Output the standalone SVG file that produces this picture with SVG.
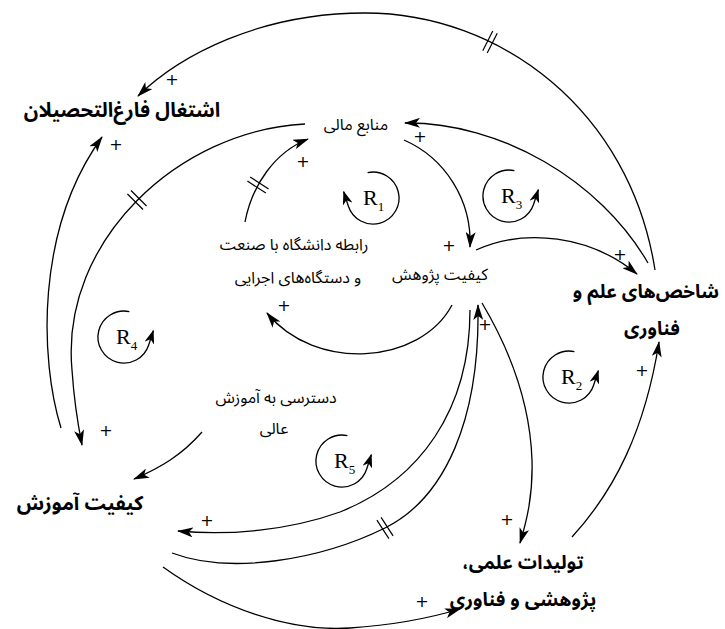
<svg xmlns="http://www.w3.org/2000/svg" width="725" height="629" viewBox="0 0 725 629">
<style>
.c{fill:none;stroke:#000;stroke-width:1.3}
.a{marker-end:url(#ah)}
.fa{font-family:'Noto Sans Arabic','DejaVu Sans',sans-serif;direction:rtl;text-anchor:middle;font-size:16px;fill:#000}
.b{font-weight:bold;font-size:20px}
.b2{font-weight:bold;font-size:19px}
.p{font-family:'DejaVu Sans',sans-serif;font-size:16px;text-anchor:middle;fill:#000}
.r{font-family:'Liberation Serif',serif;font-size:22px;fill:#000}
.lp{fill:none;stroke:#000;stroke-width:1.3;marker-end:url(#ah2)}
</style>
<defs>
<marker id="ah" viewBox="0 0 16 10" refX="15" refY="5" markerWidth="16" markerHeight="10" markerUnits="userSpaceOnUse" orient="auto"><path d="M0,0 L16,5 L0,10 L4,5 z" fill="#000"/></marker>
<marker id="ah2" viewBox="0 0 14 10" refX="13" refY="5" markerWidth="14" markerHeight="10" markerUnits="userSpaceOnUse" orient="auto"><path d="M0,0 L14,5 L0,10 L4,5 z" fill="#000"/></marker>
<path id="ccw" d="M5.4,-25.4 A26,26 0 1 0 24.7,8 L29.3,-6.3"/>
<path id="cw" d="M-5.4,-25.4 A26,26 0 1 1 -24.7,8 L-29.3,-6.3"/>
<g id="hash" stroke="#000" stroke-width="1.2"><line x1="-2.5" y1="-11" x2="-2.5" y2="11"/><line x1="2.5" y1="-11" x2="2.5" y2="11"/></g>
</defs>
<rect width="725" height="629" fill="#fff"/>

<g id="connectors">
<path class="c a" d="M655,270 C630,110 500,13 365,13 C260,13 180,55 138,96"/>
<path class="c a" d="M648,263 C600,180 500,122 405,123"/>
<path class="c a" d="M404,140 C445,158 472,200 470,247"/>
<path class="c a" d="M476,250 C525,228 590,235 637,274"/>
<path class="c a" d="M452,305 C420,365 315,372 267,313"/>
<path class="c a" d="M245,222 C252,185 275,152 308,139"/>
<path class="c a" d="M305,124 C180,130 60,240 72,370 C74,400 78,425 82,445"/>
<path class="c a" d="M61,428 C40,360 35,230 102,137"/>
<path class="c a" d="M202,432 C182,455 160,468 134,479"/>
<path class="c a" d="M470,310 C470,410 420,480 340,512 C290,530 230,536 178,531"/>
<path class="c a" d="M172,553 C230,575 320,560 385,528 C445,498 480,420 478,305"/>
<path class="c a" d="M482,303 C507,345 530,400 532,460 C533,495 527,520 520,543"/>
<path class="c a" d="M572,537 C615,490 645,430 659,342"/>
<path class="c a" d="M163,567 C220,608 290,632 350,628 C395,625 430,618 460,609"/>
<g id="delays">
<use href="#hash" transform="translate(490,42) rotate(27)"/>
<use href="#hash" transform="translate(137,200) rotate(-45)"/>
<use href="#hash" transform="translate(258,185) rotate(-57)"/>
<use href="#hash" transform="translate(385,528) rotate(-33)"/>
</g>
<g id="polarities">
<text class="p" x="172" y="85">+</text>
<text class="p" x="116" y="150">+</text>
<text class="p" x="420" y="142">+</text>
<text class="p" x="303" y="167">+</text>
<text class="p" x="449" y="251">+</text>
<text class="p" x="620" y="260">+</text>
<text class="p" x="284" y="311">+</text>
<text class="p" x="485" y="330">+</text>
<text class="p" x="106" y="436">+</text>
<text class="p" x="207" y="526">+</text>
<text class="p" x="507" y="525">+</text>
<text class="p" x="642" y="376">+</text>
<text class="p" x="422" y="607">+</text>
</g>
</g>

<g id="loops">
<g id="R1" transform="translate(373,198)"><use href="#cw" class="lp"/><text class="r" x="-10" y="7">R<tspan font-size="13" dy="6">1</tspan></text></g>
<g id="R2" transform="translate(569,377)"><use href="#ccw" class="lp"/><text class="r" x="-8" y="7">R<tspan font-size="13" dy="6">2</tspan></text></g>
<g id="R3" transform="translate(509,196)"><use href="#ccw" class="lp"/><text class="r" x="-8" y="7">R<tspan font-size="13" dy="6">3</tspan></text></g>
<g id="R4" transform="translate(124,337)"><use href="#ccw" class="lp"/><text class="r" x="-8" y="7">R<tspan font-size="13" dy="6">4</tspan></text></g>
<g id="R5" transform="translate(342,461)"><use href="#ccw" class="lp"/><text class="r" x="-8" y="7">R<tspan font-size="13" dy="6">5</tspan></text></g>
</g>

<g id="node-employment"><text class="fa b" x="122" y="117">اشتغال فارغ‌التحصیلان</text></g>
<g id="node-funds"><text class="fa" x="356" y="130">منابع مالی</text></g>
<g id="node-industry"><text class="fa" x="294" y="250">رابطه دانشگاه با صنعت</text><text class="fa" x="298" y="283">و دستگاه‌های اجرایی</text></g>
<g id="node-research"><text class="fa" x="440" y="280">کیفیت پژوهش</text></g>
<g id="node-indicators"><text class="fa b2" x="646" y="298">شاخص‌های علم و</text><text class="fa b2" x="652" y="335">فناوری</text></g>
<g id="node-access"><text class="fa" x="276" y="403">دسترسی به آموزش</text><text class="fa" x="274" y="434">عالی</text></g>
<g id="node-education"><text class="fa b" x="80" y="510">کیفیت آموزش</text></g>
<g id="node-output"><text class="fa b2" x="523" y="569">تولیدات علمی،</text><text class="fa b2" x="523" y="606">پژوهشی و فناوری</text></g>
</svg>
